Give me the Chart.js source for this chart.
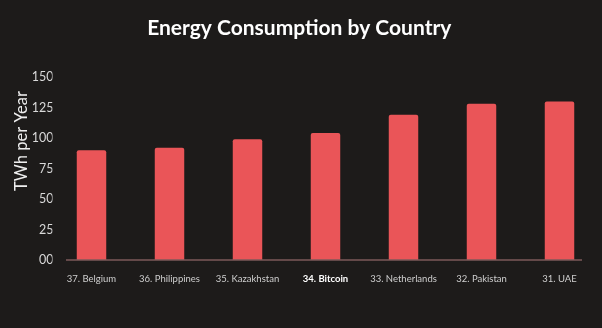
<!DOCTYPE html>
<html>
<head>
<meta charset="utf-8">
<script src="https://cdn.jsdelivr.net/npm/chart.js@4"></script>
<style>
  html, body { margin: 0; padding: 0; background: #1d1b1a; }
  #wrap { width: 602px; height: 328px; }
</style>
</head>
<body>
<div id="wrap"><canvas id="energy_chart"></canvas></div>
<script>
// データ
const countries = ['37. Belgium', '36. Philippines', '35. Kazakhstan', '34. Bitcoin', '33. Netherlands', '32. Pakistan', '31. UAE'];
const twhPerYear = [90, 92, 99, 104, 119, 128, 130];
const yTicks = [0, 25, 50, 75, 100, 125, 150];
const highlightIndex = 3;

const barColor = '#ea5558';
const bgColor = '#1d1b1a';

// 背景・ベースライン・縦軸タイトル
const decorPlugin = {
    id: 'decor',
    beforeDraw(chart) {
        const ctx = chart.ctx;
        ctx.save();
        ctx.fillStyle = bgColor;
        ctx.fillRect(0, 0, chart.width, chart.height);
        ctx.restore();
    },
    afterDatasetsDraw(chart) {
        const ctx = chart.ctx;
        const area = chart.chartArea;
        const y0 = chart.scales.y.getPixelForValue(0);
        ctx.save();
        ctx.strokeStyle = '#7d5a5a';
        ctx.lineWidth = 1.5;
        ctx.beginPath();
        ctx.moveTo(area.left + 13.5, y0);
        ctx.lineTo(area.right - 16.5, y0);
        ctx.stroke();

        // 縦軸タイトル
        ctx.translate(22, 141);
        ctx.rotate(-Math.PI / 2);
        ctx.fillStyle = '#eeeeee';
        ctx.font = '16.5px Lato';
        ctx.textAlign = 'center';
        ctx.textBaseline = 'middle';
        ctx.fillText('TWh per Year', 0, 0);
        ctx.restore();
    }
};

const ctx = document.getElementById('energy_chart').getContext('2d');
new Chart(ctx, {
    type: 'bar',
    data: {
        labels: countries,
        datasets: [{
            data: twhPerYear,
            backgroundColor: barColor,
            borderRadius: { topLeft: 2, topRight: 2 },
            borderSkipped: 'bottom',
            categoryPercentage: 1,
            barPercentage: 0.378
        }]
    },
    options: {
        responsive: true,
        maintainAspectRatio: false,
        animation: false,
        layout: { padding: { left: 0, right: 3.5, top: 0, bottom: 0 } },
        plugins: {
            legend: { display: false },
            tooltip: { enabled: false },
            title: {
                display: true,
                text: 'Energy Consumption by Country',
                color: '#ffffff',
                font: { family: 'Lato', size: 21, weight: 'bold', lineHeight: 1.2 },
                padding: { top: 15.4, bottom: 36.4 }
            }
        },
        scales: {
            x: {
                grid: { display: false },
                border: { display: false },
                ticks: {
                    padding: 5,
                    maxRotation: 0,
                    autoSkip: false,
                    color: (c) => c.index === highlightIndex ? '#ffffff' : '#cfcfcf',
                    font: (c) => ({ family: 'Lato', size: 9.5, weight: c.index === highlightIndex ? 'bold' : 'normal' })
                },
                afterFit(scale) { scale.height = 68; }
            },
            y: {
                min: 0,
                max: 150,
                grid: { display: false },
                border: { display: false },
                afterBuildTicks(scale) { scale.ticks = yTicks.map(v => ({ value: v })); },
                ticks: {
                    padding: -9,
                    color: '#d9d9d9',
                    font: { family: 'Lato', size: 12.5 },
                    callback: (v) => v === 0 ? '00' : String(v)
                },
                afterFit(scale) { scale.width = 52.5; }
            }
        }
    },
    plugins: [decorPlugin]
});
</script>
</body>
</html>
